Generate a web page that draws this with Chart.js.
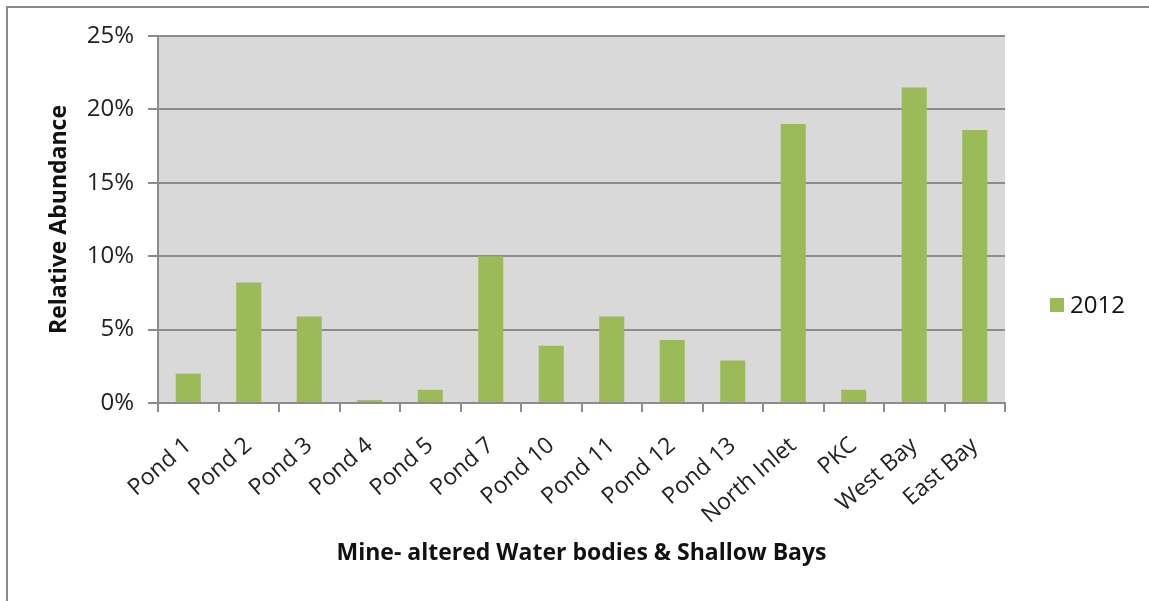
<!DOCTYPE html>
<html>
<head>
<meta charset="utf-8">
<script src="https://cdn.jsdelivr.net/npm/chart.js@4"></script>
<style>
  body { margin: 0; background: #fff; }
  canvas { display: block; }
</style>
</head>
<body>
<canvas id="abundanceChart" width="1149" height="601"></canvas>
<script>
// site names along the x axis
const sites = ['Pond 1', 'Pond 2', 'Pond 3', 'Pond 4', 'Pond 5', 'Pond 7', 'Pond 10',
    'Pond 11', 'Pond 12', 'Pond 13', 'North Inlet', 'PKC', 'West Bay', 'East Bay'];
// relative abundance in percent, 2012
const abundance2012 = [2.0, 8.2, 5.9, 0.2, 0.9, 10.0, 3.9, 5.9, 4.3, 2.9, 19.0, 0.9, 21.5, 18.6];
const seriesName = '2012';
const yTicks = [0, 5, 10, 15, 20, 25];

const green = '#9bbb59';
const gridGray = '#8c8c8c';

Chart.defaults.font.family = "'Open Sans', sans-serif";
Chart.defaults.color = '#222';

// white page, frame lines and grey plot area
const backdrop = {
    id: 'backdrop',
    beforeDraw(chart) {
        const c = chart.ctx;
        const a = chart.chartArea;
        c.save();
        c.fillStyle = '#fff';
        c.fillRect(0, 0, chart.width, chart.height);
        c.strokeStyle = '#8a8a8a';
        c.lineWidth = 2;
        c.beginPath();
        c.moveTo(7, chart.height);
        c.lineTo(7, 7);
        c.lineTo(chart.width, 7);
        c.stroke();
        c.fillStyle = '#d9d9d9';
        c.fillRect(a.left, a.top, a.right - a.left, a.bottom - a.top);
        c.restore();
    }
};

// legend to the right of the plot
const sideLegend = {
    id: 'sideLegend',
    afterDraw(chart) {
        const c = chart.ctx;
        const ds = chart.data.datasets[0];
        c.save();
        c.fillStyle = ds.backgroundColor;
        c.fillRect(1050, 298, 14, 14);
        c.fillStyle = '#111';
        c.font = "24px 'Open Sans', sans-serif";
        c.textBaseline = 'middle';
        c.fillText(ds.label, 1070, 306);
        c.restore();
    }
};

const ctx = document.getElementById('abundanceChart').getContext('2d');
const abundanceChart = new Chart(ctx, {
    type: 'bar',
    data: {
        labels: sites,
        datasets: [{
            label: seriesName,
            data: abundance2012,
            backgroundColor: green,
            barPercentage: 0.9,
            categoryPercentage: 0.46
        }]
    },
    options: {
        responsive: false,
        animation: false,
        layout: { padding: { top: 36, right: 144, bottom: 0, left: 0 } },
        plugins: {
            legend: { display: false },
            tooltip: { enabled: false }
        },
        scales: {
            x: {
                grid: { offset: true, drawOnChartArea: false, color: gridGray, lineWidth: 2, tickLength: 9 },
                border: { color: gridGray, width: 2 },
                ticks: { font: { size: 23 }, minRotation: 41, maxRotation: 41, padding: 20 },
                title: {
                    display: true,
                    text: 'Mine- altered Water bodies & Shallow Bays',
                    font: { size: 23, weight: 'bold' },
                    color: '#111',
                    padding: { top: 0, bottom: 34 }
                },
                afterFit(scale) { scale.height = 198; }
            },
            y: {
                min: 0,
                max: 25,
                afterBuildTicks(scale) { scale.ticks = yTicks.map(v => ({ value: v })); },
                grid: { color: gridGray, lineWidth: 2, tickLength: 10 },
                border: { color: gridGray, width: 2 },
                ticks: { font: { size: 24 }, padding: 14, callback: v => v + '%' },
                title: {
                    display: true,
                    text: 'Relative Abundance',
                    font: { size: 23, weight: 'bold' },
                    color: '#111',
                    padding: { top: 46, bottom: 0 }
                },
                afterFit(scale) { scale.width = 158; }
            }
        }
    },
    plugins: [backdrop, sideLegend]
});
</script>
</body>
</html>
